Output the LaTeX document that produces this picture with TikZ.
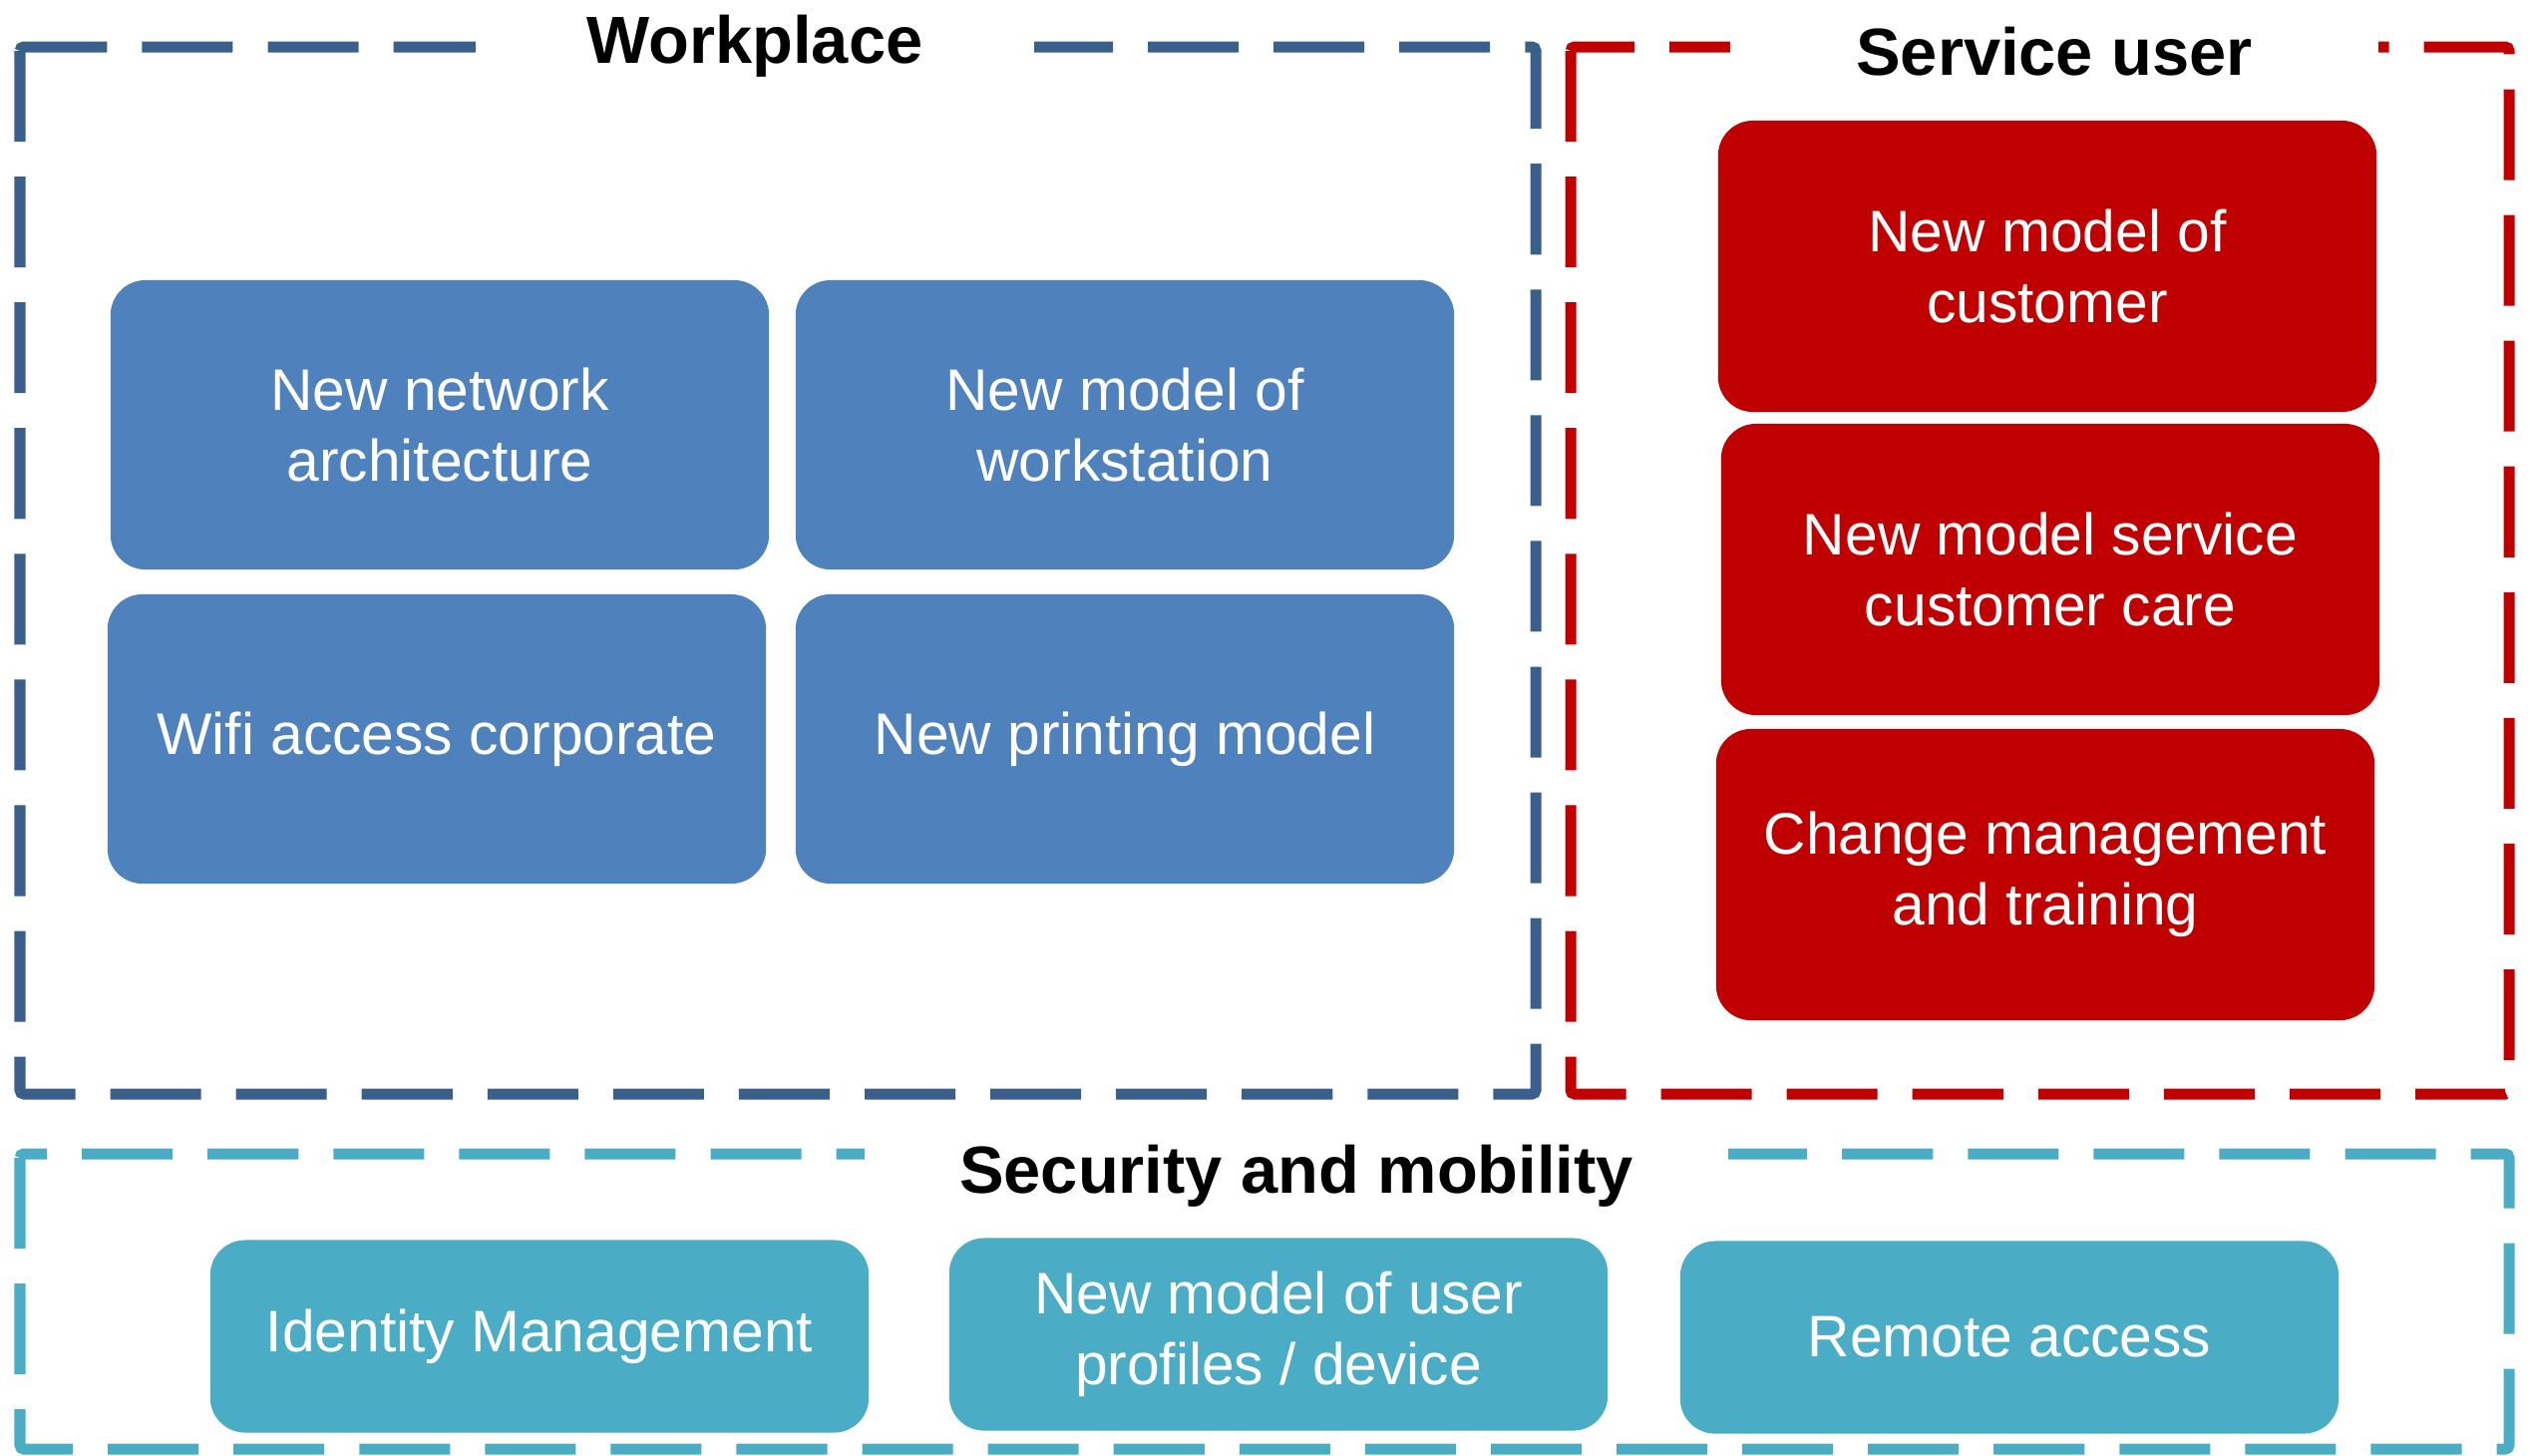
\documentclass[tikz,border=0pt]{standalone}
\usepackage{fontspec}
\setmainfont{Liberation Sans}
\usepackage{tikz}
\usetikzlibrary{calc}
\definecolor{boxblue}{RGB}{79,129,189}
\definecolor{lineblue}{RGB}{58,95,139}
\definecolor{boxred}{RGB}{192,0,0}
\definecolor{boxcyan}{RGB}{75,172,198}
\tikzset{areabox/.style={line width=0.11cm,dash pattern=on 0.91cm off 0.35cm,rounded corners=0.04cm}}
\tikzset{itembox/.style={shape=rectangle,rounded corners=0.35cm,text=white,align=center,inner sep=0,minimum width=6.6cm,minimum height=2.9cm,font=\fontsize{16.7}{20.2}\selectfont}}
\tikzset{areatitle/.style={fill=white,anchor=base,inner xsep=0,inner ysep=3pt,text height=0.5cm,font=\fontsize{19}{23}\selectfont\bfseries}}

\begin{document}
\begin{tikzpicture}[x=0.01cm,y=-0.01cm]

	\useasboundingbox (0,0) rectangle (2537,1459);

	% dashed areas
	\draw [areabox,lineblue] (20,47) rectangle (1540,1097);
	\draw [areabox,boxred] (1575,47) rectangle (2516,1097);
	\draw [areabox,boxcyan] (20,1157) rectangle (2516,1453);

	% titles on the dashed lines
	\node [areatitle,minimum width=5.6cm] (workplace) at (757,63) {Workplace};
	\node [areatitle,minimum width=6.5cm] (serviceuser) at (2060,75) {Service user};
	\node [areatitle,minimum width=8.65cm] (security) at (1300,1196) {Security and mobility};

	% workplace
	\node [itembox,fill=boxblue] (network) at (441,426) {New network\\architecture};
	\node [itembox,fill=boxblue] (workstation) at (1128,426) {New model of\\workstation};
	\node [itembox,fill=boxblue] (wifi) at (438,741) {Wifi access corporate};
	\node [itembox,fill=boxblue] (printing) at (1128,741) {New printing model};

	% service user
	\node [itembox,fill=boxred,minimum height=2.92cm] (customer) at (2053,267) {New model of\\customer};
	\node [itembox,fill=boxred,minimum height=2.92cm] (care) at (2056,571) {New model service\\customer care};
	\node [itembox,fill=boxred,minimum height=2.92cm] (change) at (2051,877) {Change management\\and training};

	% security and mobility
	\node [itembox,fill=boxcyan,minimum height=1.93cm] (identity) at (541,1340) {Identity Management};
	\node [itembox,fill=boxcyan,minimum height=1.93cm] (profiles) at (1282,1338) {New model of user\\profiles / device};
	\node [itembox,fill=boxcyan,minimum height=1.93cm] (remote) at (2015,1341) {Remote access};

\end{tikzpicture}
\end{document}
